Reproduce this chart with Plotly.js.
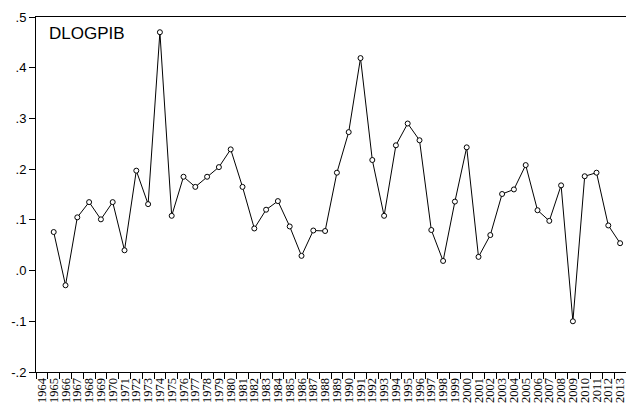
<!DOCTYPE html>
<html>
<head>
<meta charset="utf-8">
<script src="https://cdn.plot.ly/plotly-3.0.1.min.js"></script>
<style>html,body{margin:0;padding:0;background:#fff;}#chart{width:626px;height:412px;}</style>
</head>
<body>
<div id="chart"></div>
<script>
var years = ["1964","1965","1966","1967","1968","1969","1970","1971","1972","1973","1974","1975","1976","1977","1978","1979","1980","1981","1982","1983","1984","1985","1986","1987","1988","1989","1990","1991","1992","1993","1994","1995","1996","1997","1998","1999","2000","2001","2002","2003","2004","2005","2006","2007","2008","2009","2010","2011","2012","2013"];
var dlogpib = [null,0.076,-0.029,0.105,0.135,0.101,0.135,0.040,0.197,0.131,0.470,0.108,0.185,0.165,0.185,0.204,0.239,0.165,0.083,0.120,0.137,0.087,0.029,0.079,0.078,0.193,0.273,0.419,0.218,0.108,0.247,0.290,0.257,0.080,0.019,0.136,0.243,0.027,0.070,0.151,0.160,0.208,0.119,0.098,0.168,-0.100,0.186,0.193,0.089,0.054];
var yTickVals = [-0.2,-0.1,0,0.1,0.2,0.3,0.4,0.5];
var yTickText = ["-.2","-.1",".0",".1",".2",".3",".4",".5"];
var seriesName = "DLOGPIB";

Plotly.newPlot("chart", [{
  x: years, y: dlogpib, type: "scatter", mode: "lines+markers",
  line: {color: "#000", width: 1},
  marker: {symbol: "circle", size: 5, color: "#fff", line: {color: "#000", width: 1}},
  connectgaps: false, hoverinfo: "skip"
}], {
  width: 626, height: 412,
  margin: {l: 36, r: 0, t: 17, b: 40},
  paper_bgcolor: "#fff", plot_bgcolor: "#fff",
  showlegend: false,
  xaxis: {
    type: "category", range: [-0.5, 49.5], tickson: "boundaries",
    tickmode: "array", tickvals: years, ticktext: years,
    ticks: "outside", ticklen: 6, tickcolor: "#000", tickwidth: 1,
    showline: true, linecolor: "#000", linewidth: 1, mirror: true,
    showgrid: false, zeroline: false, tickangle: -90,
    tickfont: {family: "Liberation Serif, Times New Roman, serif", size: 12.5, color: "#000"}
  },
  yaxis: {
    range: [-0.2, 0.5], tickvals: yTickVals, ticktext: yTickText,
    ticks: "outside", ticklen: 6, tickcolor: "#000", tickwidth: 1,
    showline: true, linecolor: "#000", linewidth: 1,
    showgrid: false, zeroline: false,
    tickfont: {family: "Liberation Sans, Arial, sans-serif", size: 13, color: "#000"}
  },
  annotations: [{
    text: seriesName, xref: "paper", yref: "paper", x: 0.018, y: 0.985,
    xanchor: "left", yanchor: "top", showarrow: false,
    font: {family: "Liberation Sans, Arial, sans-serif", size: 17, color: "#000"}
  }]
}, {displayModeBar: false, staticPlot: true});
</script>
</body>
</html>
